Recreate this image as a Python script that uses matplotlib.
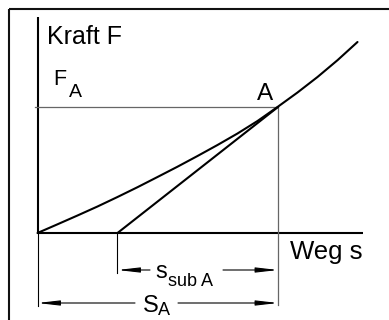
import numpy as np
import matplotlib
matplotlib.use("Agg")
import matplotlib.pyplot as plt

# force-displacement curve (pixel-like units)
weg = [0, 20, 40, 60, 80, 100, 120, 140, 160, 180, 200, 220, 240, 260, 280, 300, 320]
kraft = [0, 8.7, 17.5, 26.5, 36, 45.8, 56, 66.3, 77, 88, 99.5, 112, 126, 140.5, 156, 172.8, 191]

# point A and start of the tangent line
s_A = 240.5
F_A = 126
s_0 = 80

plt.rcParams["font.family"] = ["Liberation Sans", "DejaVu Sans"]

fig = plt.figure(figsize=(3.89, 3.2), dpi=100)
ax = fig.add_axes([0, 0, 1, 1])
ax.set_xlim(-37.5, 351.5)
ax.set_ylim(-87, 233)
ax.axis("off")

# outer frame (only top and left visible)
ax.plot([-28.5, 351.5], [224, 224], color="#111111", lw=1.5, solid_capstyle="butt")
ax.plot([-28.5, -28.5], [224, -87], color="#111111", lw=1.5, solid_capstyle="butt")

# axes
ax.plot([0, 0], [-1, 216], color="black", lw=1.5, solid_capstyle="butt")
ax.plot([-1, 325.5], [0, 0], color="black", lw=1.5, solid_capstyle="butt")

# guide lines through A
gray = "#666666"
ax.plot([-2.5, s_A], [F_A, F_A], color=gray, lw=0.9)
ax.plot([s_A, s_A], [F_A, -72], color=gray, lw=0.9)

# curve and tangent
ax.plot(weg, kraft, color="black", lw=1.5, solid_capstyle="round", solid_joinstyle="round")
ax.plot([s_0, s_A], [0, F_A], color="black", lw=1.5, solid_capstyle="round")

# extension lines
ax.plot([0, 0], [0, -73], color="black", lw=0.8)
ax.plot([s_0, s_0], [0, -40], color="black", lw=0.8)

def dim_arrow(x_from, x_to, y):
    ax.annotate("", xy=(x_to, y), xytext=(x_from, y),
                arrowprops=dict(arrowstyle="-|>,head_length=1.3,head_width=0.15",
                                color="black", lw=0.8, mutation_scale=10,
                                shrinkA=0, shrinkB=0))

# s_sub A dimension
y1 = -37
dim_arrow(112.5, s_0, y1)
dim_arrow(185.5, s_A, y1)
ax.text(117.5, -45, "s", fontsize=17, ha="left", va="baseline")
ax.text(131, -53, "sub A", fontsize=13, ha="left", va="baseline")

# S_A dimension
y2 = -70
dim_arrow(97.5, 0, y2)
dim_arrow(140.5, s_A, y2)
ax.text(105.5, -79, "S", fontsize=17, ha="left", va="baseline")
ax.text(120.5, -82, "A", fontsize=13, ha="left", va="baseline")

# labels
ax.text(9.5, 189, "Kraft F", fontsize=18, ha="left", va="baseline")
ax.text(15.5, 148, "F", fontsize=15.5, ha="left", va="baseline")
ax.text(31.5, 136, "A", fontsize=14, ha="left", va="baseline")
ax.text(219.5, 133, "A", fontsize=17.5, ha="left", va="baseline")
ax.text(252.5, -26, "Weg s", fontsize=18.5, ha="left", va="baseline")

fig.savefig("out.png", dpi=100)
